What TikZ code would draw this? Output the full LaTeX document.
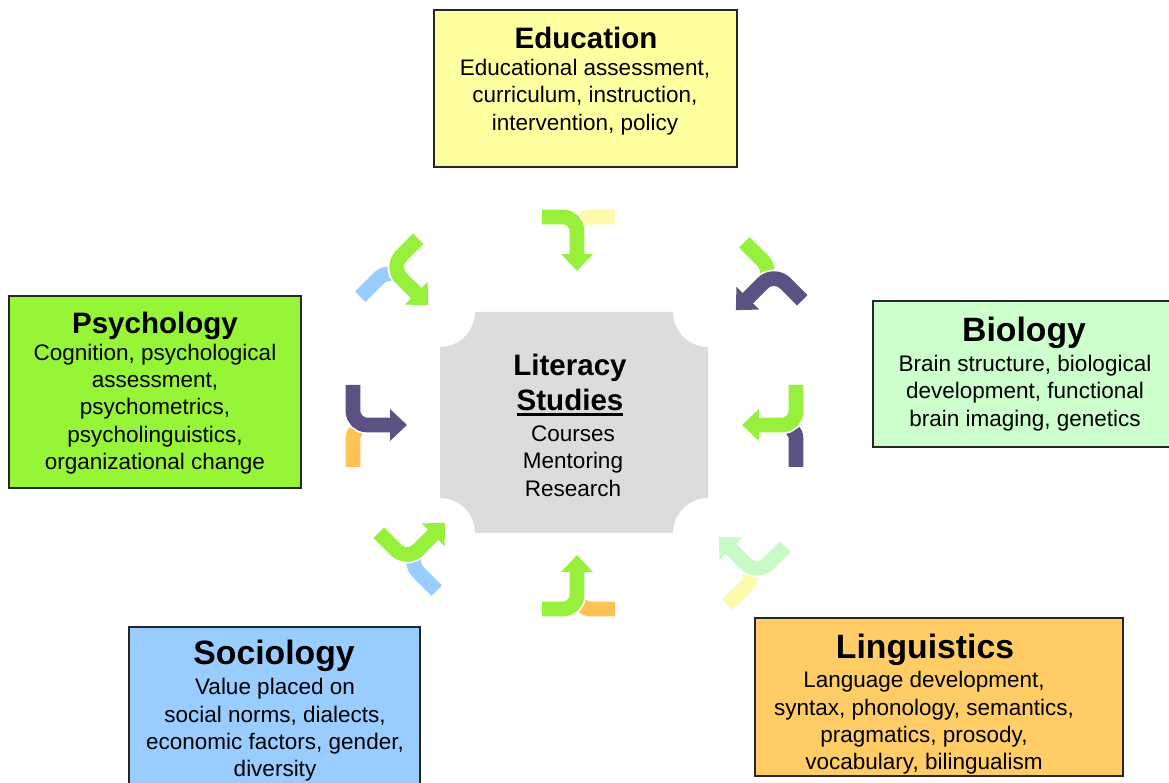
\documentclass[tikz,border=0pt]{standalone}
\usepackage{fontspec}
\setmainfont{Liberation Sans}
\usetikzlibrary{arrows.meta}
\newcommand{\thickul}[1]{\leavevmode\vtop{\hbox{#1}\kern1.8pt\hrule height1.5pt}}
\definecolor{eduyel}{RGB}{255,255,160}
\definecolor{psygreen}{RGB}{150,245,55}
\definecolor{biogreen}{RGB}{204,255,204}
\definecolor{socblue}{RGB}{153,204,255}
\definecolor{lingorange}{RGB}{255,204,102}
\definecolor{litgrey}{RGB}{220,220,220}
\definecolor{limeg}{RGB}{150,240,60}
\definecolor{purp}{RGB}{90,82,130}
\definecolor{orng}{RGB}{255,195,85}
\definecolor{paleyel}{RGB}{255,250,170}
\definecolor{mint}{RGB}{200,250,200}
\tikzset{
  box/.style={draw=black!85, line width=0.8pt},
  ttl/.style={font=\bfseries\fontsize{24}{28}\selectfont},
  ttlsmall/.style={font=\bfseries\fontsize{21}{25}\selectfont},
  txt/.style={align=center, font=\fontsize{16}{19.4}\selectfont},
  secarr/.style={line width=10.5pt},
  mainarr/.style={line width=10.5pt, -{Triangle[length=0pt 1.15, width=0pt 2.1]},
    preaction={draw=white, line width=13pt}},
}
\begin{document}
\begin{tikzpicture}[x=0.025cm, y=0.025cm]
\useasboundingbox (0,0) rectangle (1169,782);
\fill[white] (0,0) rectangle (1169,782);

% outer boxes
\filldraw[box, fill=eduyel] (434,615) rectangle (737,772);
\filldraw[box, fill=psygreen] (9,294) rectangle (301,486);
\filldraw[box, fill=biogreen] (873,335) rectangle (1180,481);
\filldraw[box, fill=socblue] (129,-10) rectangle (420,155);
\filldraw[box, fill=lingorange] (755,6) rectangle (1123,164);

\node[ttlsmall] (eduT) at (586,744) {Education};
\node[txt] (eduB) at (585,685) {Educational assessment,\\curriculum, instruction,\\intervention, policy};
\node[ttlsmall] (psyT) at (155,456) {Psychology};
\node[txt] (psyB) at (155,373) {Cognition, psychological\\assessment,\\psychometrics,\\psycholinguistics,\\organizational change};
\node[ttl] (bioT) at (1024,449) {Biology};
\node[txt] (bioB) at (1025,389) {Brain structure, biological\\development, functional\\brain imaging, genetics};
\node[ttl] (socT) at (274,126) {Sociology};
\node[txt] (socB) at (275,52) {Value placed on\\social norms, dialects,\\economic factors, gender,\\diversity};
\node[ttl] (lingT) at (925,132) {Linguistics};
\node[txt] (lingB) at (924,59) {Language development,\\syntax, phonology, semantics,\\pragmatics, prosody,\\vocabulary, bilingualism};

% centre plaque
\fill[litgrey] (475,470) -- (673,470) arc[start angle=180, end angle=270, radius=35]
  -- (708,284) arc[start angle=90, end angle=180, radius=35]
  -- (475,249) arc[start angle=0, end angle=90, radius=35]
  -- (440,435) arc[start angle=-90, end angle=0, radius=35] -- cycle;
\node[align=center, font=\bfseries\fontsize{21}{24.8}\selectfont] (litT) at (570,397) {Literacy\\\thickul{Studies}};
\node[txt] (litB) at (573,321) {Courses\\Mentoring\\Research};

% arrow pairs
\begin{scope}[shift={(577,541)}, rotate=0]
\draw[secarr, paleyel] (38,24) -- (14,24) arc[start angle=90, end angle=180, radius=14] -- (0,0);
\draw[mainarr, limeg] (-35,24) -- (-14,24) arc[start angle=90, end angle=0, radius=14] -- (0,-30);
\end{scope}
\begin{scope}[shift={(757,493)}, rotate=-45, xscale=-1]
\draw[secarr, limeg] (42,24) -- (16,24) arc[start angle=90, end angle=180, radius=16] -- (0,0);
\draw[mainarr, purp] (-40,24) -- (-16,24) arc[start angle=90, end angle=0, radius=16] -- (0,-30);
\end{scope}
\begin{scope}[shift={(407,498)}, rotate=45, xscale=-1]
\draw[secarr, socblue] (42,24) -- (16,24) arc[start angle=90, end angle=180, radius=16] -- (0,0);
\draw[mainarr, limeg] (-40,24) -- (-16,24) arc[start angle=90, end angle=0, radius=16] -- (0,-30);
\end{scope}
\begin{scope}[shift={(377,357)}, rotate=90, xscale=-1]
\draw[secarr, orng] (42,24) -- (14,24) arc[start angle=90, end angle=180, radius=14] -- (0,0);
\draw[mainarr, purp] (-40,24) -- (-14,24) arc[start angle=90, end angle=0, radius=14] -- (0,-30);
\end{scope}
\begin{scope}[shift={(772,357)}, rotate=-90]
\draw[secarr, purp] (42,24) -- (14,24) arc[start angle=90, end angle=180, radius=14] -- (0,0);
\draw[mainarr, limeg] (-40,24) -- (-14,24) arc[start angle=90, end angle=0, radius=14] -- (0,-30);
\end{scope}
\begin{scope}[shift={(424,238)}, rotate=135, xscale=-1]
\draw[secarr, socblue] (42,24) -- (16,24) arc[start angle=90, end angle=180, radius=16] -- (0,0);
\draw[mainarr, limeg] (-40,24) -- (-16,24) arc[start angle=90, end angle=0, radius=16] -- (0,-30);
\end{scope}
\begin{scope}[shift={(577,197)}, rotate=180, xscale=-1]
\draw[secarr, orng] (38,24) -- (14,24) arc[start angle=90, end angle=180, radius=14] -- (0,0);
\draw[mainarr, limeg] (-35,24) -- (-14,24) arc[start angle=90, end angle=0, radius=14] -- (0,-30);
\end{scope}
\begin{scope}[shift={(740,224)}, rotate=-135]
\draw[secarr, paleyel] (42,24) -- (16,24) arc[start angle=90, end angle=180, radius=16] -- (0,0);
\draw[mainarr, mint] (-40,24) -- (-16,24) arc[start angle=90, end angle=0, radius=16] -- (0,-30);
\end{scope}
\end{tikzpicture}
\end{document}
